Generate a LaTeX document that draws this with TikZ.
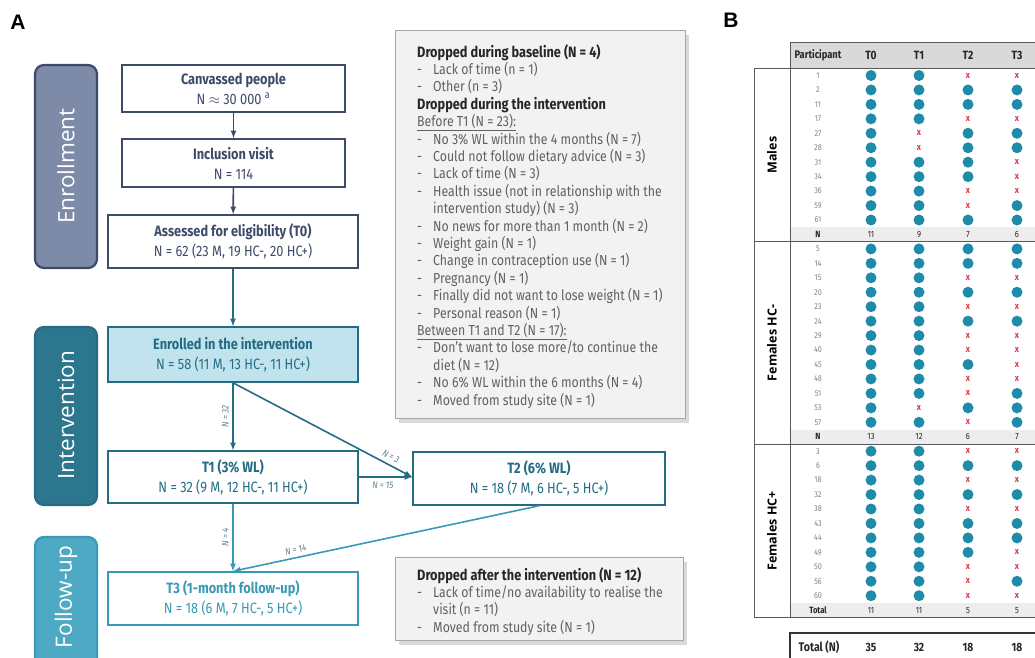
\documentclass[tikz,border=0pt]{standalone}
\usepackage{fontspec}
\setmainfont{Fira Sans}[FakeStretch = 0.85]
\newfontfamily\bandfont{Open Sans}
\newfontfamily\panelfont{Liberation Sans}
\usepackage{tikz}
\usetikzlibrary{arrows}
\usetikzlibrary{shadows}
\usetikzlibrary{positioning}
\definecolor{mslate}{RGB}{62, 75, 104}
\definecolor{mslatefill}{RGB}{125, 139, 168}
\definecolor{mteal}{RGB}{36, 108, 132}
\definecolor{mtealfill}{RGB}{44, 118, 142}
\definecolor{mlight}{RGB}{56, 154, 182}
\definecolor{mlightfill}{RGB}{78, 170, 196}
\definecolor{mpale}{RGB}{192, 227, 238}
\definecolor{mdot}{RGB}{30, 140, 168}
\definecolor{mred}{RGB}{215, 60, 70}
\definecolor{mgrey}{RGB}{242, 242, 242}
\definecolor{mlabel}{RGB}{95, 128, 145}
\tikzset{panel/.style = {font = \panelfont\bfseries\fontsize{21}{21}\selectfont, inner sep = 0}}
\tikzset{band/.style = {draw, rounded corners = 9pt, line width = 2.2pt}}
\tikzset{bandtext/.style = {text = white, rotate = 90, inner sep = 0, font = \bandfont\fontsize{22.5}{22.5}\selectfont}}
\tikzset{flowbox/.style = {draw, line width = 1.6pt, fill = white, align = center, inner sep = 0, font = \fontsize{15}{20}\selectfont}}
\tikzset{flow/.style = {line width = 1.6pt, -latex}}
\tikzset{nlab/.style = {text = mlabel, inner sep = 3.5pt, font = \itshape\fontsize{9.5}{9.5}\selectfont}}
\tikzset{dropbox/.style = {draw = black!35, line width = 1.4pt, fill = mgrey, drop shadow = {shadow xshift = 3pt, shadow yshift = -4pt, opacity = 0.3}}}
\tikzset{droptext/.style = {align = left, inner sep = 0, text = black!62, font = \fontsize{14.5}{17.4}\selectfont}}
\tikzset{visitdot/.style = {fill = mdot, circle, inner sep = 0, minimum size = 11}}
\tikzset{visitx/.style = {text = mred, inner sep = 0, font = \bfseries\fontsize{9.5}{9.5}\selectfont}}
\tikzset{pid/.style = {text = black!50, inner sep = 0, font = \fontsize{8.5}{8.5}\selectfont}}
\tikzset{cnt/.style = {text = black!85, inner sep = 0, font = \bfseries\fontsize{9}{9}\selectfont}}
\tikzset{colhead/.style = {text = black!85, inner sep = 0, font = \bfseries\fontsize{12}{12}\selectfont}}
\tikzset{group/.style = {rotate = 90, inner sep = 0, font = \bandfont\bfseries\fontsize{12.5}{12.5}\selectfont}}
\tikzset{grid/.style = {draw = black!65, line width = 1pt}}
\newcommand{\drophead}[1]{{\fontsize{15}{17.4}\selectfont\bfseries\color{black!85}#1}}
\newcommand{\dropitem}{\makebox[16pt][l]{-}}
\newcommand{\dropcont}{\hspace*{16pt}}
\newcommand{\visit}[4]{\if#1o\node [visitdot] (#4) at (#2, #3) {};\else\node [visitx] (#4) at (#2, #3) {x};\fi}
\begin{document}
\begin{tikzpicture}[x = 1pt, y = -1pt]
      \useasboundingbox (0, 0) rectangle (1035, 657);
      \clip (0, 0) rectangle (1035, 657);

      \node [panel] (pa) at (18, 22) {A};
      \node [panel] (pb) at (731, 20) {B};

      \node [band, draw = mslate, fill = mslatefill, minimum width = 62, minimum height = 203] (benrol) at (66, 166.5) {};
      \node [band, draw = mteal, fill = mtealfill, minimum width = 62, minimum height = 178] (binter) at (66, 416) {};
      \node [band, draw = mlight, fill = mlightfill, minimum width = 62, minimum height = 150] (bfollow) at (66, 612) {};
      \node [bandtext] (lenrol) at (66, 166) {Enrollment};
      \node [bandtext] (linter) at (66, 415) {Intervention};
      \node [bandtext] (lfollow) at (66, 597) {Follow-up};

      \node [flowbox, draw = mslate, text = mslate, minimum width = 223, minimum height = 47] (canv) at (233.5, 88.5)
        {\textbf{Canvassed people}\\N $\approx$ 30 000 \textsuperscript{a}};
      \node [flowbox, draw = mslate, text = mslate, minimum width = 223, minimum height = 48] (incl) at (233.5, 163)
        {\textbf{Inclusion visit}\\N = 114};
      \node [flowbox, draw = mslate, text = mslate, minimum width = 250, minimum height = 53] (elig) at (233, 241.5)
        {\textbf{Assessed for eligibility (T0)}\\N = 62 (23 M, 19 HC-, 20 HC+)};
      \node [flowbox, draw = mteal, fill = mpale, text = mteal, minimum width = 250, minimum height = 55] (enrol) at (233, 354.5)
        {\textbf{Enrolled in the intervention}\\N = 58 (11 M, 13 HC-, 11 HC+)};
      \node [flowbox, draw = mteal, text = mteal, minimum width = 250, minimum height = 52] (tone) at (233, 477)
        {\textbf{T1 (3\% WL)}\\N = 32 (9 M, 12 HC-, 11 HC+)};
      \node [flowbox, draw = mteal, text = mteal, minimum width = 252, minimum height = 53] (ttwo) at (539, 478.5)
        {\textbf{T2 (6\% WL)}\\N = 18 (7 M, 6 HC-, 5 HC+)};
      \node [flowbox, draw = mlight, text = mlight, minimum width = 250, minimum height = 53] (tthree) at (233, 598.5)
        {\textbf{T3 (1-month follow-up)}\\N = 18 (6 M, 7 HC-, 5 HC+)};
      \coordinate (tin) at (tone.east -| ttwo.west);

      \draw [flow, mslate] (canv) -- (incl);
      \draw [flow, mslate] (incl) -- (elig);
      \draw [flow, mteal] (elig) -- (enrol);
      \draw [flow, mteal] (enrol) -- node [nlab, rotate = 90, anchor = south] (l32) {N = 32} (tone);
      \draw [flow, mteal] (enrol.south) -- node [nlab, rotate = -28, anchor = south, pos = 0.86, inner sep = 4pt] (l3) {N = 3} (tin);
      \draw [flow, mteal] (tone.east) -- node [nlab, anchor = north, pos = 0.45, inner sep = 4.5pt] (l15) {N = 15} (tin);
      \draw [flow, mlight] (tone) -- node [nlab, rotate = 90, anchor = south] (l4) {N = 4} (tthree);
      \draw [flow, mlight] (ttwo.south) -- node [nlab, rotate = 12, anchor = south, pos = 0.79] (l14) {N = 14} (tthree.north);

      \node [dropbox, minimum width = 290, minimum height = 388, anchor = north west] (dropA) at (395, 30) {};
      \node [droptext, anchor = north west] (dropAtext) at ([xshift = 22pt, yshift = -14pt] dropA.north west) {%
        \drophead{Dropped during baseline (N = 4)}\\
        \dropitem Lack of time (n = 1)\\
        \dropitem Other (n = 3)\\
        \drophead{Dropped during the intervention}\\
        \underline{Before T1 (N = 23):}\\
        \dropitem No 3\% WL within the 4 months (N = 7)\\
        \dropitem Could not follow dietary advice (N = 3)\\
        \dropitem Lack of time (N = 3)\\
        \dropitem Health issue (not in relationship with the\\
        \dropcont intervention study) (N = 3)\\
        \dropitem No news for more than 1 month (N = 2)\\
        \dropitem Weight gain (N = 1)\\
        \dropitem Change in contraception use (N = 1)\\
        \dropitem Pregnancy (N = 1)\\
        \dropitem Finally did not want to lose weight (N = 1)\\
        \dropitem Personal reason (N = 1)\\
        \underline{Between T1 and T2 (N = 17):}\\
        \dropitem Don’t want to lose more/to continue the\\
        \dropcont diet (N = 12)\\
        \dropitem No 6\% WL within the 6 months (N = 4)\\
        \dropitem Moved from study site (N = 1)};
      \node [dropbox, minimum width = 288, minimum height = 83, anchor = north west] (dropB) at (395, 557) {};
      \node [droptext, anchor = north west] (dropBtext) at ([xshift = 22pt, yshift = -10pt] dropB.north west) {%
        \drophead{Dropped after the intervention (N = 12)}\\
        \dropitem Lack of time/no availability to realise the\\
        \dropcont visit (n = 11)\\
        \dropitem Moved from study site (N = 1)};

      \fill [black!15] (790, 42) rectangle (1040, 68);
      \foreach \k in {11, 25, 37} {
        \fill [black!7] (790, 75.5 + 14.45 * \k - 7.2) rectangle (1040, 75.5 + 14.45 * \k + 7.2);
      }
      \draw [grid] (790, 42) -- (1040, 42);
      \draw [grid] (754, 68) -- (1040, 68);
      \draw [grid] (754, 241.7) -- (1040, 241.7);
      \draw [grid] (754, 444) -- (1040, 444);
      \draw [grid] (754, 617.4) -- (1040, 617.4);
      \draw [grid] (754, 68) -- (754, 617.4);
      \draw [grid] (790, 42) -- (790, 617.4);

      \node [colhead, font = \bfseries\fontsize{11}{11}\selectfont] (hpart) at (818, 55) {Participant};
      \foreach \t/\x in {T0/871, T1/919, T2/968, T3/1017} {
        \node [colhead] (h\t) at (\x, 55) {\t};
      }
      \node [group] (gm) at (772, 155) {Males};
      \node [group] (gneg) at (772, 343) {Females HC-};
      \node [group] (gpos) at (772, 531) {Females HC+};

      \foreach \id/\a/\b/\c/\d [count = \i from 0] in {1/o/o/x/x, 2/o/o/o/o, 11/o/o/o/o, 17/o/o/x/x, 27/o/x/o/o,
          28/o/x/o/o, 31/o/o/o/x, 34/o/o/o/x, 36/o/o/x/x, 59/o/o/x/o, 61/o/o/o/o,
          -/-/-/-/-, 5/o/o/o/o, 14/o/o/o/o, 15/o/o/x/x, 20/o/o/o/o, 23/o/o/x/x, 24/o/o/o/o,
          29/o/o/x/x, 40/o/o/x/x, 45/o/o/o/x, 48/o/o/x/x, 51/o/o/x/o, 53/o/x/o/o, 57/o/o/x/o,
          -/-/-/-/-, 3/o/o/x/x, 6/o/o/o/o, 18/o/o/x/x, 32/o/o/o/o, 38/o/o/x/x, 43/o/o/o/o,
          44/o/o/o/o, 49/o/o/o/x, 50/o/o/x/x, 56/o/o/x/o, 60/o/o/x/x} {
        \pgfmathsetmacro{\yy}{75.5 + 14.45 * \i}
        \if\a-\else
          \node [pid] (id\id) at (818, \yy) {\id};
          \visit{\a}{871}{\yy}{a\id}
          \visit{\b}{919}{\yy}{b\id}
          \visit{\c}{968}{\yy}{c\id}
          \visit{\d}{1017}{\yy}{d\id}
        \fi
      }
      \foreach \k/\lab/\na/\nb/\nc/\nd in {11/N/11/9/7/6, 25/N/13/12/6/7, 37/Total/11/11/5/5} {
        \pgfmathsetmacro{\yy}{75.5 + 14.45 * \k}
        \node [cnt] (s\k) at (818, \yy) {\lab};
        \node [cnt, font = \fontsize{9}{9}\selectfont] (sa\k) at (871, \yy) {\na};
        \node [cnt, font = \fontsize{9}{9}\selectfont] (sb\k) at (919, \yy) {\nb};
        \node [cnt, font = \fontsize{9}{9}\selectfont] (sc\k) at (968, \yy) {\nc};
        \node [cnt, font = \fontsize{9}{9}\selectfont] (sd\k) at (1017, \yy) {\nd};
      }

      \draw [black!80, line width = 2pt] (790, 633) rectangle (1045, 670);
      \node [colhead, font = \bfseries\fontsize{12.5}{12.5}\selectfont] (tot) at (819, 647) {Total (N)};
      \foreach \n/\x in {35/871, 32/919, 18/968, 18/1017} {
        \node [colhead] (tot\x) at (\x, 647) {\n};
      }
\end{tikzpicture}
\end{document}
